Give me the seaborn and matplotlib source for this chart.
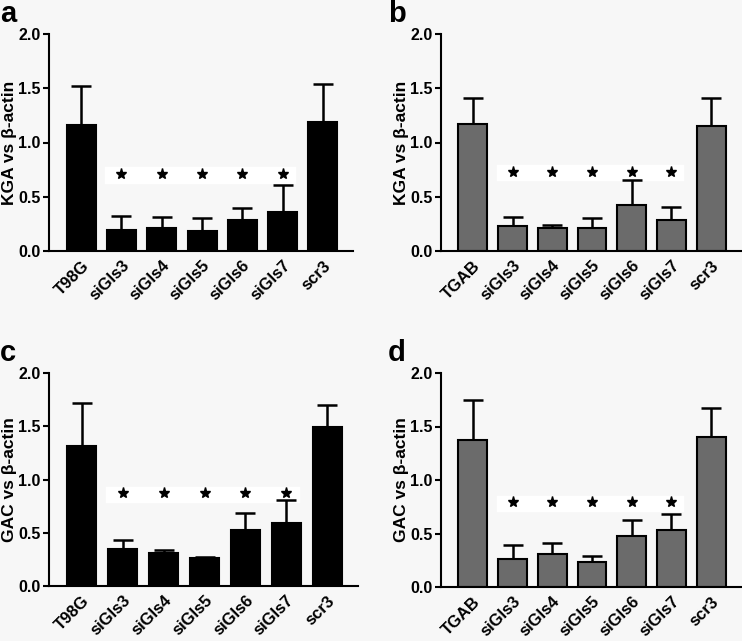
import pandas as pd
import matplotlib.pyplot as plt
import matplotlib.transforms as mtransforms
import seaborn as sns

# -----------------------------
# Data
# -----------------------------
labels_t98g = ["T98G", "siGls3", "siGls4", "siGls5", "siGls6", "siGls7", "scr3"]
labels_tgab = ["TGAB", "siGls3", "siGls4", "siGls5", "siGls6", "siGls7", "scr3"]

kga_t98g = [1.16, 0.19, 0.21, 0.18, 0.29, 0.36, 1.19]
kga_t98g_err = [0.36, 0.13, 0.10, 0.12, 0.11, 0.25, 0.35]

kga_tgab = [1.17, 0.23, 0.21, 0.21, 0.42, 0.29, 1.15]
kga_tgab_err = [0.24, 0.08, 0.03, 0.09, 0.23, 0.12, 0.26]

gac_t98g = [1.31, 0.35, 0.31, 0.26, 0.53, 0.59, 1.49]
gac_t98g_err = [0.41, 0.08, 0.03, 0.015, 0.16, 0.22, 0.21]

gac_tgab = [1.37, 0.265, 0.305, 0.235, 0.48, 0.53, 1.40]
gac_tgab_err = [0.38, 0.125, 0.105, 0.055, 0.15, 0.155, 0.27]

# significance stars over siGls3..siGls7
star_y = [0.71, 0.73, 0.87, 0.79]

plt.rcParams['font.family'] = ['Liberation Sans', 'DejaVu Sans']
plt.rcParams['font.weight'] = 'bold'

fig = plt.figure(figsize=(7.42, 6.41), dpi=100, facecolor='#f7f7f7')

panels = [
    ("a", labels_t98g, kga_t98g, kga_t98g_err, "KGA vs β-actin", "black", [49, 34, 353, 251]),
    ("b", labels_tgab, kga_tgab, kga_tgab_err, "KGA vs β-actin", "#6b6b6b", [441, 34, 741, 251]),
    ("c", labels_t98g, gac_t98g, gac_t98g_err, "GAC vs β-actin", "black", [49, 373, 358, 586]),
    ("d", labels_tgab, gac_tgab, gac_tgab_err, "GAC vs β-actin", "#6b6b6b", [441, 373, 741, 587]),
]

W, H = 742, 641
shift = mtransforms.ScaledTranslation(6 / 100, 0, fig.dpi_scale_trans)
for i, (letter, labels, vals, errs, ylab, color, box) in enumerate(panels):
    l, t, r, b = box
    ax = fig.add_axes([l / W, 1 - b / H, (r - l) / W, (b - t) / H])
    ax.set_facecolor('#f7f7f7')
    df = pd.DataFrame({"group": labels, "value": vals})
    sns.barplot(data=df, x="group", y="value", color=color, edgecolor="black",
                linewidth=1.5, width=0.72, errorbar=None, saturation=1, ax=ax, zorder=2)
    ax.errorbar(range(len(vals)), vals, yerr=[[0] * len(errs), errs], fmt='none',
                ecolor='black', elinewidth=1.8, capsize=7, capthick=1.8, zorder=1)
    # white band behind the stars
    y0 = star_y[i]
    ax.fill_between([0.6, 5.3], y0 - 0.08, y0 + 0.06, color='white', zorder=0)
    ax.plot(range(1, 6), [y0] * 5, linestyle='none', marker='*', color='black',
            markersize=8, zorder=3)

    ax.set_ylim(0, 2.0)
    ax.set_xlim(-0.8, 6.75)
    ax.set_yticks([0, 0.5, 1.0, 1.5, 2.0])
    ax.set_yticklabels(["0.0", "0.5", "1.0", "1.5", "2.0"], fontsize=11.5, fontweight='bold')
    ax.set_xticks(range(len(labels)))
    ax.set_xticklabels(labels, rotation=45, ha='right', rotation_mode='anchor',
                       fontsize=12, fontweight='bold')
    for lab in ax.get_xticklabels():
        lab.set_transform(lab.get_transform() + shift)
    ax.tick_params(axis='x', length=0, pad=5)
    ax.tick_params(axis='y', length=4, width=1.5, pad=2)
    ax.set_xlabel("")
    ax.set_ylabel(ylab, fontsize=12.5, fontweight='bold', labelpad=1)
    for s in ["top", "right"]:
        ax.spines[s].set_visible(False)
    for s in ["left", "bottom"]:
        ax.spines[s].set_linewidth(1.5)

    fig.text((l - 49) / W if l < 100 else (l - 53) / W, 1 - (t - 6) / H, letter,
             fontsize=21, fontweight='bold', va='bottom', ha='left')

fig.savefig("out.png", dpi=100, facecolor=fig.get_facecolor())
